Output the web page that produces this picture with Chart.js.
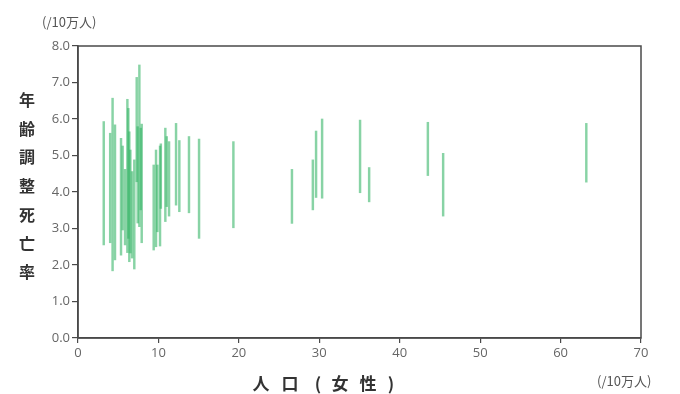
<!DOCTYPE html>
<html>
<head>
    <title></title>
    <meta charset="utf-8" />
    <style>
    body { margin: 0; background: #fff; }
    #wrap { width: 680px; height: 394px; }
    </style>
    <script src="https://cdn.jsdelivr.net/npm/chart.js"></script>
</head>
<body>
<div id="wrap"><canvas id="myChart" width="680" height="394"></canvas></div>
<script>
// population (women, /10万人) and the low / high ends of each age-adjusted rate bar
let pop = [3.2, 4.0, 4.3, 4.6, 5.35, 5.55, 5.85, 6.14, 6.26, 6.38, 6.51, 6.72, 7.0, 7.3, 7.42, 7.63, 7.8, 7.92,
    9.41, 9.7, 9.87, 10.2, 10.3, 10.86, 11.03, 11.32, 12.19, 12.6, 13.8, 15.05,
    19.32, 26.6, 29.2, 29.6, 30.35, 35.07, 36.2, 43.5, 45.4, 63.2];
let rateLow = [2.55, 2.61, 1.84, 2.14, 2.27, 2.96, 2.55, 2.34, 2.73, 2.09, 2.33, 2.19, 1.89, 4.28, 3.15, 3.05, 3.51, 2.61,
    2.41, 2.5, 2.91, 2.52, 3.55, 3.19, 3.6, 3.34, 3.64, 3.46, 3.43, 2.73,
    3.02, 3.14, 3.51, 3.85, 3.83, 3.98, 3.73, 4.45, 3.34, 4.27];
let rateHigh = [5.93, 5.61, 6.57, 5.84, 5.47, 5.26, 4.62, 6.54, 6.29, 5.65, 5.15, 4.56, 4.88, 7.14, 5.79, 7.48, 5.75, 5.86,
    4.74, 5.15, 4.74, 5.26, 5.32, 5.75, 5.52, 5.38, 5.88, 5.41, 5.52, 5.45,
    5.38, 4.62, 4.88, 5.67, 6.0, 5.97, 4.67, 5.91, 5.06, 5.88];
let xTicks = [0, 10, 20, 30, 40, 50, 60, 70];
let yTitle = ['年', '齢', '調', '整', '死', '亡', '率'];
let xTitle = ['人', '口', '(', '女', '性', ')'];
let unitLabel = '(/10万人)';

let points = pop.map((p, i) => ({ x: p, y: [rateLow[i], rateHigh[i]] }));

const tickFont = { family: 'Open Sans', size: 13 };
const axisColor = '#4a4a4a';

let extras = {
    id: 'extras',
    afterDraw(chart) {
        let c = chart.ctx;
        let a = chart.chartArea;
        c.save();
        c.strokeStyle = axisColor;
        c.lineWidth = 1.5;
        c.strokeRect(a.left, a.top, a.right - a.left, a.bottom - a.top);

        c.fillStyle = '#555';
        c.font = '13px "Noto Sans CJK JP"';
        c.textAlign = 'left';
        c.textBaseline = 'middle';
        c.fillText(unitLabel, 42, 22);
        c.fillText(unitLabel, 597, 381);

        c.fillStyle = '#333';
        c.font = 'bold 16px "Noto Sans CJK JP"';
        c.textAlign = 'center';
        yTitle.forEach((ch, i) => c.fillText(ch, 27, 100 + i * 28.7));

        // x title, one glyph at a time to keep the wide spacing
        c.font = 'bold 17px "Noto Sans CJK JP"';
        let xs = [261, 290, 318, 340, 368, 391];
        xTitle.forEach((ch, i) => c.fillText(ch, xs[i], 384));
        c.restore();
    }
};

let ctx = document.getElementById('myChart').getContext('2d');
let myChart = new Chart(ctx, {
    type: 'bar',
    data: {
        datasets: [{
            data: points,
            backgroundColor: 'rgba(50, 180, 100, 0.58)',
            borderWidth: 0,
            barThickness: 1.8
        }]
    },
    options: {
        responsive: false,
        animation: false,
        layout: { padding: { top: 46, right: 39, left: 0, bottom: 0 } },
        plugins: { legend: { display: false }, tooltip: { enabled: false } },
        scales: {
            x: {
                type: 'linear',
                min: 0, max: 70,
                offset: false,
                afterFit(s) { s.height = 56; },
                afterBuildTicks(s) { s.ticks = xTicks.map(v => ({ value: v })); },
                grid: { drawOnChartArea: false, offset: false, tickLength: 5, color: axisColor, lineWidth: 1.2 },
                border: { color: axisColor, width: 1.5 },
                ticks: { color: '#666', font: tickFont, padding: 2 }
            },
            y: {
                min: 0, max: 8,
                afterFit(s) { s.width = 78; },
                grid: { drawOnChartArea: false, tickLength: 6, color: axisColor, lineWidth: 1.2 },
                border: { color: axisColor, width: 1.5 },
                ticks: { stepSize: 1, color: '#666', font: tickFont, padding: 2, callback: v => v.toFixed(1) }
            }
        }
    },
    plugins: [extras]
});
</script>
</body>
</html>
